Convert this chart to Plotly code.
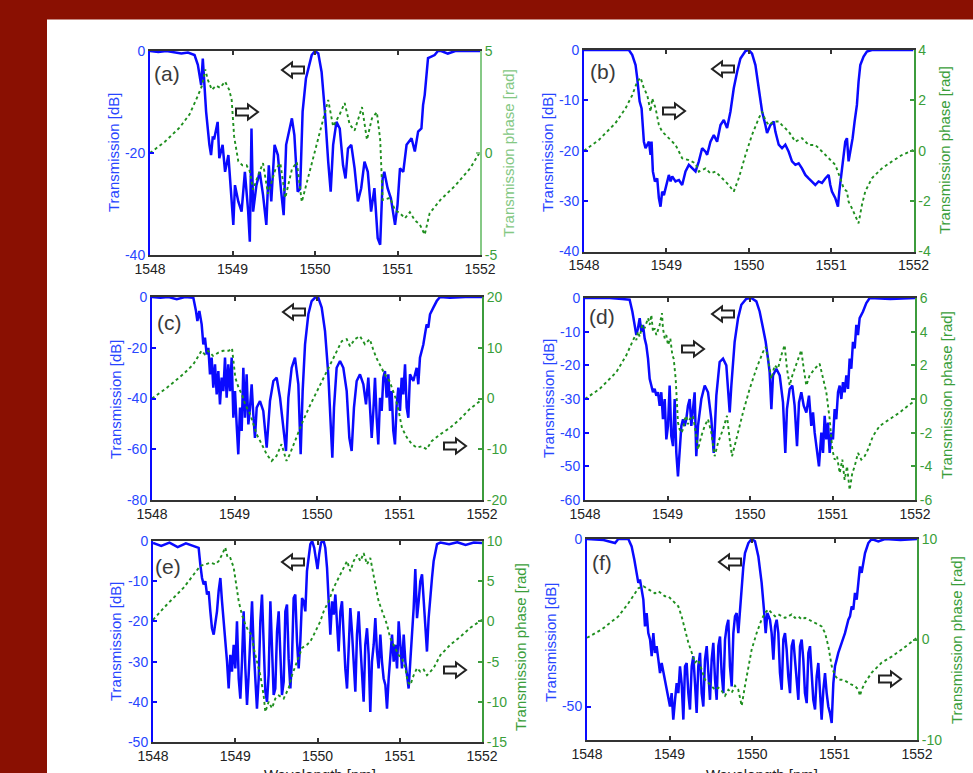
import plotly.graph_objects as go

W, H = 973, 773
FONT = "Liberation Sans, Arial, sans-serif"

# ---------------- data (wavelength nm, value) ----------------
WL_TICKS = [1548, 1549, 1550, 1551, 1552]

A_TRANS = [(1548.00,0),(1548.10,-0.2),(1548.20,0),(1548.30,-0.3),(1548.38,-0.5),(1548.46,-0.3),(1548.54,-0.8),(1548.58,-2.7),(1548.62,-6.7),(1548.64,-1.5),(1548.66,-8.0),(1548.68,-11.9),(1548.72,-18.4),(1548.74,-20.4),(1548.76,-17.0),(1548.78,-17.1),(1548.82,-13.9),(1548.84,-21.0),(1548.88,-18.4),(1548.91,-23.7),(1548.95,-20.4),(1548.99,-28.9),(1549.01,-34.1),(1549.03,-26.3),(1549.07,-29.5),(1549.11,-31.5),(1549.15,-23.7),(1549.19,-31.5),(1549.21,-37.4),(1549.23,-15.2),(1549.25,-31.5),(1549.29,-26.3),(1549.33,-23.7),(1549.37,-28.2),(1549.41,-34.1),(1549.44,-22.4),(1549.47,-29.5),(1549.51,-18.4),(1549.55,-20.4),(1549.59,-27.6),(1549.62,-32.2),(1549.65,-18.4),(1549.69,-15.2),(1549.72,-13.2),(1549.75,-16.5),(1549.79,-27.6),(1549.82,-27.0),(1549.85,-11.9),(1549.89,-5.4),(1549.96,-0.8),(1550.00,0),(1550.04,-0.5),(1550.08,-4.1),(1550.12,-11.9),(1550.16,-21.7),(1550.19,-27.6),(1550.22,-18.4),(1550.26,-13.9),(1550.30,-15.2),(1550.34,-22.4),(1550.37,-25.0),(1550.40,-19.1),(1550.44,-18.4),(1550.48,-23.0),(1550.52,-29.5),(1550.56,-26.9),(1550.60,-21.7),(1550.64,-23.7),(1550.68,-31.5),(1550.72,-26.9),(1550.76,-36.7),(1550.79,-38.0),(1550.82,-25.0),(1550.84,-23.7),(1550.88,-26.9),(1550.92,-28.9),(1550.97,-34.1),(1551.00,-30.2),(1551.03,-23.0),(1551.07,-23.7),(1551.11,-18.4),(1551.17,-17.1),(1551.21,-19.7),(1551.25,-15.8),(1551.29,-15.2),(1551.31,-10.6),(1551.33,-8.6),(1551.35,-4.1),(1551.37,-1.4),(1551.41,-1.1),(1551.45,-0.8),(1551.49,0),(1551.53,0),(1551.61,-0.5),(1551.70,0),(1552.00,0)]
A_PHASE = [(1548.00,0.0),(1548.18,0.55),(1548.36,1.25),(1548.48,1.9),(1548.58,2.8),(1548.63,3.3),(1548.67,4.1),(1548.70,3.6),(1548.75,3.1),(1548.80,3.3),(1548.85,3.2),(1548.91,3.5),(1548.96,3.1),(1548.99,2.6),(1549.02,0.8),(1549.04,0.3),(1549.07,-0.4),(1549.12,-0.6),(1549.17,-0.6),(1549.21,-0.9),(1549.25,-1.8),(1549.31,-1.1),(1549.37,-0.5),(1549.43,-2.0),(1549.52,-0.8),(1549.58,-0.5),(1549.64,-2.2),(1549.72,-0.8),(1549.78,-0.45),(1549.84,-2.4),(1550.00,0.15),(1550.16,2.6),(1550.22,1.3),(1550.30,1.9),(1550.36,2.45),(1550.42,1.4),(1550.48,1.1),(1550.57,2.25),(1550.63,0.65),(1550.69,1.7),(1550.75,2.0),(1550.79,0.65),(1550.82,-2.3),(1550.91,-2.2),(1550.97,-2.8),(1551.03,-2.95),(1551.09,-3.2),(1551.15,-2.9),(1551.21,-3.3),(1551.27,-3.5),(1551.33,-4.0),(1551.39,-2.95),(1551.52,-2.3),(1551.70,-1.6),(1551.88,-0.75),(1552.00,0.05)]

B_TRANS = [(1548.000,0),(1548.300,0),(1548.545,0),(1548.586,-1.0),(1548.626,-3.0),(1548.646,-5.6),(1548.675,-10.2),(1548.699,-11.6),(1548.727,-18.2),(1548.747,-19.5),(1548.768,-18.8),(1548.788,-18.2),(1548.808,-20.8),(1548.820,-18.2),(1548.836,-24.1),(1548.861,-26.1),(1548.889,-25.5),(1548.909,-29.4),(1548.929,-31.1),(1548.949,-28.1),(1548.970,-28.8),(1548.990,-27.4),(1549.030,-24.8),(1549.051,-26.1),(1549.071,-25.1),(1549.111,-26.1),(1549.152,-25.8),(1549.192,-26.8),(1549.232,-24.1),(1549.273,-22.8),(1549.313,-23.5),(1549.354,-24.1),(1549.394,-22.1),(1549.434,-19.5),(1549.475,-20.2),(1549.495,-20.8),(1549.535,-18.2),(1549.576,-16.9),(1549.616,-18.2),(1549.657,-14.9),(1549.697,-13.9),(1549.737,-15.5),(1549.778,-12.2),(1549.818,-7.6),(1549.859,-4.3),(1549.899,-1.7),(1549.960,-0.2),(1550.000,0),(1550.040,-0.7),(1550.081,-3.0),(1550.121,-7.6),(1550.162,-12.2),(1550.202,-14.9),(1550.222,-16.5),(1550.263,-14.9),(1550.303,-14.2),(1550.323,-16.2),(1550.364,-18.8),(1550.404,-19.5),(1550.444,-18.8),(1550.485,-20.2),(1550.525,-22.1),(1550.566,-22.8),(1550.606,-22.5),(1550.646,-23.5),(1550.687,-24.8),(1550.727,-25.5),(1550.768,-26.1),(1550.808,-26.8),(1550.848,-26.1),(1550.889,-26.4),(1550.929,-25.5),(1550.970,-24.8),(1550.990,-26.8),(1551.010,-28.1),(1551.051,-29.4),(1551.083,-31.1),(1551.099,-28.1),(1551.131,-24.1),(1551.172,-18.2),(1551.192,-17.5),(1551.212,-22.1),(1551.232,-20.2),(1551.261,-17.5),(1551.285,-14.2),(1551.313,-10.9),(1551.333,-6.3),(1551.354,-3.0),(1551.394,-1.3),(1551.434,-0.3),(1551.495,0),(1552.000,0)]
B_PHASE = [(1548.0,0.0),(1548.18,0.43),(1548.38,1.09),(1548.505,1.69),(1548.586,2.21),(1548.646,2.74),(1548.687,2.9),(1548.727,2.48),(1548.768,2.21),(1548.808,1.55),(1548.828,2.08),(1548.869,1.69),(1548.909,1.02),(1548.949,0.76),(1548.99,0.63),(1549.03,0.5),(1549.071,0.36),(1549.111,0.23),(1549.152,-0.03),(1549.192,-0.3),(1549.273,-0.37),(1549.354,-0.5),(1549.394,-0.83),(1549.475,-0.7),(1549.535,-0.9),(1549.596,-0.83),(1549.677,-1.09),(1549.758,-1.36),(1549.818,-1.62),(1549.879,-1.09),(1549.96,-0.17),(1550.04,0.63),(1550.121,1.29),(1550.162,1.55),(1550.202,1.22),(1550.242,1.02),(1550.303,1.16),(1550.364,1.16),(1550.404,1.02),(1550.485,0.76),(1550.566,0.36),(1550.646,0.5),(1550.727,0.23),(1550.808,0.23),(1550.889,-0.03),(1550.97,-0.3),(1551.051,-0.56),(1551.111,-1.09),(1551.152,-1.49),(1551.192,-1.62),(1551.212,-2.02),(1551.252,-2.28),(1551.293,-2.55),(1551.333,-2.88),(1551.374,-2.15),(1551.414,-1.62),(1551.495,-1.09),(1551.616,-0.7),(1551.737,-0.43),(1551.859,-0.17),(1552.0,0.03)]

C_TRANS = [(1548.000,0),(1548.100,-0.3),(1548.200,0),(1548.300,-0.9),(1548.400,0),(1548.501,-0.3),(1548.533,-5.5),(1548.550,-9.5),(1548.574,-5.5),(1548.602,-10.8),(1548.622,-18.7),(1548.642,-16.0),(1548.663,-22.6),(1548.683,-20.0),(1548.703,-30.5),(1548.723,-23.9),(1548.743,-35.7),(1548.764,-26.5),(1548.784,-38.4),(1548.804,-29.2),(1548.824,-42.3),(1548.844,-31.8),(1548.865,-37.1),(1548.885,-23.9),(1548.905,-39.7),(1548.925,-26.5),(1548.945,-37.1),(1548.966,-23.9),(1548.986,-47.6),(1549.006,-37.1),(1549.026,-50.2),(1549.046,-62.0),(1549.067,-43.6),(1549.087,-52.8),(1549.107,-27.9),(1549.127,-47.6),(1549.147,-30.5),(1549.168,-50.2),(1549.188,-43.6),(1549.208,-34.4),(1549.228,-46.3),(1549.248,-55.5),(1549.269,-43.6),(1549.309,-41.0),(1549.349,-44.9),(1549.370,-52.8),(1549.390,-59.4),(1549.430,-41.0),(1549.471,-33.1),(1549.511,-31.8),(1549.552,-39.7),(1549.592,-51.5),(1549.624,-60.7),(1549.653,-39.7),(1549.693,-27.9),(1549.733,-23.9),(1549.774,-34.4),(1549.802,-62.0),(1549.826,-37.1),(1549.855,-18.7),(1549.895,-6.8),(1549.935,-1.6),(1549.984,0),(1550.016,-0.3),(1550.057,-4.2),(1550.097,-13.4),(1550.137,-30.5),(1550.166,-50.2),(1550.186,-63.3),(1550.206,-43.6),(1550.238,-27.9),(1550.279,-25.2),(1550.319,-27.9),(1550.360,-37.1),(1550.392,-55.5),(1550.420,-60.7),(1550.448,-43.6),(1550.481,-33.1),(1550.521,-30.5),(1550.562,-34.4),(1550.594,-42.3),(1550.622,-31.8),(1550.642,-42.3),(1550.663,-55.5),(1550.683,-44.9),(1550.703,-31.8),(1550.723,-47.6),(1550.743,-58.1),(1550.764,-39.7),(1550.784,-44.9),(1550.804,-31.8),(1550.824,-29.2),(1550.844,-39.7),(1550.865,-30.5),(1550.885,-44.9),(1550.905,-37.1),(1550.925,-52.8),(1550.945,-58.1),(1550.966,-42.3),(1550.986,-35.7),(1551.006,-44.9),(1551.026,-31.8),(1551.046,-38.4),(1551.067,-26.5),(1551.087,-43.6),(1551.107,-47.6),(1551.127,-30.5),(1551.168,-33.1),(1551.208,-27.9),(1551.228,-34.4),(1551.248,-23.9),(1551.289,-18.7),(1551.309,-14.7),(1551.329,-10.8),(1551.349,-12.1),(1551.370,-6.8),(1551.410,-4.2),(1551.451,-1.6),(1551.491,0),(1551.612,-0.3),(1551.800,0),(1552.000,0)]
C_PHASE = [(1548.00,0.0),(1548.18,2.1),(1548.38,4.8),(1548.50,6.7),(1548.60,9.4),(1548.64,8.7),(1548.68,9.4),(1548.74,8.4),(1548.80,9.0),(1548.86,9.4),(1548.93,9.4),(1548.97,9.9),(1549.01,4.1),(1549.05,2.1),(1549.09,0.8),(1549.13,-1.2),(1549.19,-3.1),(1549.23,-5.1),(1549.27,-7.1),(1549.33,-9.0),(1549.39,-11.0),(1549.45,-12.3),(1549.51,-11.3),(1549.57,-9.0),(1549.63,-12.3),(1549.67,-11.0),(1549.75,-7.7),(1549.83,-4.4),(1549.92,-1.2),(1550.00,1.5),(1550.08,4.1),(1550.16,6.7),(1550.24,9.4),(1550.30,11.3),(1550.36,11.7),(1550.40,10.3),(1550.46,11.7),(1550.52,12.3),(1550.58,10.7),(1550.64,11.7),(1550.68,9.7),(1550.72,8.0),(1550.78,6.1),(1550.82,4.8),(1550.88,3.4),(1550.95,0.2),(1550.99,-2.5),(1551.03,-5.8),(1551.09,-7.7),(1551.15,-9.0),(1551.21,-9.7),(1551.27,-9.4),(1551.33,-10.0),(1551.39,-8.4),(1551.49,-7.1),(1551.61,-5.8),(1551.73,-4.1),(1551.85,-2.1),(1552.00,-0.2)]

D_TRANS = [(1548.000,0),(1548.300,0),(1548.450,-0.3),(1548.541,-0.5),(1548.574,-4),(1548.602,-8),(1548.622,-11),(1548.642,-9),(1548.663,-6),(1548.683,-10),(1548.703,-8),(1548.723,-12),(1548.743,-14),(1548.764,-18),(1548.784,-24),(1548.804,-26),(1548.824,-28),(1548.844,-27),(1548.865,-29),(1548.885,-28),(1548.905,-32),(1548.925,-28),(1548.945,-36),(1548.966,-30),(1548.986,-42),(1549.006,-38),(1549.026,-26),(1549.046,-41),(1549.067,-44),(1549.087,-30),(1549.107,-46),(1549.127,-53),(1549.147,-46),(1549.168,-38),(1549.188,-36),(1549.208,-38),(1549.228,-36),(1549.248,-32),(1549.269,-30),(1549.289,-38),(1549.309,-33),(1549.329,-28),(1549.349,-47),(1549.370,-38),(1549.410,-30),(1549.451,-26),(1549.491,-28),(1549.531,-36),(1549.560,-46),(1549.592,-29),(1549.632,-19),(1549.673,-18),(1549.713,-20),(1549.754,-34),(1549.774,-26),(1549.814,-13),(1549.855,-6),(1549.895,-2),(1549.956,-0.2),(1550.016,0),(1550.077,-1),(1550.117,-4),(1550.158,-9),(1550.190,-13),(1550.218,-18),(1550.238,-22),(1550.259,-33),(1550.279,-23),(1550.319,-21),(1550.360,-23),(1550.400,-31),(1550.428,-46),(1550.448,-33),(1550.481,-27),(1550.513,-26),(1550.541,-32),(1550.570,-44),(1550.594,-31),(1550.622,-28),(1550.651,-32),(1550.683,-34),(1550.715,-29),(1550.743,-38),(1550.764,-34),(1550.784,-40),(1550.804,-44),(1550.836,-50),(1550.865,-40),(1550.885,-46),(1550.905,-35),(1550.925,-42),(1550.945,-37),(1550.966,-46),(1550.986,-40),(1551.006,-42),(1551.026,-33),(1551.046,-36),(1551.067,-28),(1551.087,-26),(1551.107,-30),(1551.127,-25),(1551.147,-28),(1551.168,-23),(1551.188,-27),(1551.208,-18),(1551.228,-21),(1551.248,-13),(1551.269,-15),(1551.289,-8),(1551.309,-11),(1551.329,-6),(1551.370,-4),(1551.410,-1.5),(1551.451,0),(1551.700,-0.3),(1552.000,0)]
D_PHASE = [(1548.0,0.0),(1548.178,0.6),(1548.380,1.6),(1548.501,2.6),(1548.574,3.4),(1548.602,3.7),(1548.622,3.5),(1548.642,4.0),(1548.663,3.7),(1548.695,4.4),(1548.723,4.2),(1548.764,4.8),(1548.784,4.4),(1548.804,5.0),(1548.824,4.0),(1548.844,4.2),(1548.865,3.8),(1548.905,4.4),(1548.933,5.1),(1548.945,4.2),(1548.966,3.6),(1548.986,3.8),(1549.006,3.2),(1549.034,3.6),(1549.059,2.6),(1549.075,2.4),(1549.099,1.2),(1549.115,-0.2),(1549.127,-1.4),(1549.147,-1.8),(1549.168,-2.0),(1549.188,-1.8),(1549.208,-1.2),(1549.228,-1.0),(1549.248,-1.5),(1549.269,-1.2),(1549.309,-1.0),(1549.349,-2.2),(1549.370,-3.0),(1549.410,-2.2),(1549.451,-1.6),(1549.491,-1.2),(1549.531,-2.0),(1549.572,-3.4),(1549.612,-2.6),(1549.673,-1.8),(1549.721,-1.0),(1549.754,-2.4),(1549.782,-3.4),(1549.834,-2.4),(1549.915,-0.8),(1549.996,0.6),(1550.077,1.8),(1550.158,2.8),(1550.190,3.1),(1550.218,2.4),(1550.259,1.2),(1550.299,2.0),(1550.339,1.8),(1550.380,2.6),(1550.420,3.2),(1550.448,1.8),(1550.481,0.8),(1550.513,1.4),(1550.562,2.1),(1550.622,2.9),(1550.651,1.8),(1550.683,0.8),(1550.723,1.4),(1550.784,1.8),(1550.844,2.1),(1550.885,1.2),(1550.925,0.4),(1550.966,-1.2),(1550.998,-3.0),(1551.026,-3.6),(1551.055,-3.4),(1551.087,-4.4),(1551.119,-3.6),(1551.147,-4.8),(1551.176,-4.0),(1551.208,-5.4),(1551.240,-4.4),(1551.269,-4.0),(1551.309,-3.2),(1551.349,-3.6),(1551.390,-3.4),(1551.430,-3.0),(1551.491,-2.2),(1551.572,-1.6),(1551.693,-1.2),(1551.814,-0.8),(1551.915,-0.4),(1552.0,-0.1)]

E_TRANS = [(1548.000,-0.5),(1548.100,-1.2),(1548.200,-0.4),(1548.300,-1.5),(1548.400,-0.6),(1548.500,-1.2),(1548.555,-1.7),(1548.575,-5.8),(1548.596,-9.2),(1548.616,-10.8),(1548.636,-10.0),(1548.657,-13.3),(1548.677,-12.5),(1548.697,-17.5),(1548.717,-21.7),(1548.738,-23.3),(1548.758,-20.0),(1548.778,-17.5),(1548.798,-12.5),(1548.819,-9.2),(1548.839,-15.0),(1548.859,-20.0),(1548.879,-23.3),(1548.900,-30.0),(1548.920,-36.7),(1548.940,-28.3),(1548.960,-32.5),(1548.981,-25.8),(1549.001,-31.7),(1549.021,-20.0),(1549.042,-34.2),(1549.062,-39.2),(1549.082,-30.0),(1549.102,-17.5),(1549.123,-31.7),(1549.143,-40.8),(1549.163,-33.3),(1549.183,-23.3),(1549.204,-15.0),(1549.224,-26.7),(1549.244,-35.8),(1549.264,-41.7),(1549.285,-34.2),(1549.305,-20.0),(1549.325,-13.3),(1549.345,-25.0),(1549.366,-37.5),(1549.386,-40.0),(1549.406,-33.3),(1549.427,-15.0),(1549.447,-26.7),(1549.467,-38.3),(1549.487,-36.7),(1549.508,-22.5),(1549.528,-17.5),(1549.548,-30.0),(1549.568,-38.3),(1549.589,-35.0),(1549.609,-17.5),(1549.629,-15.8),(1549.649,-29.2),(1549.670,-36.7),(1549.690,-29.2),(1549.710,-14.2),(1549.730,-13.3),(1549.751,-25.0),(1549.771,-31.7),(1549.791,-25.0),(1549.812,-14.2),(1549.832,-15.0),(1549.852,-17.5),(1549.872,-7.5),(1549.893,-3.3),(1549.913,-0.8),(1549.935,0),(1549.960,-1.7),(1549.985,-5.0),(1550.000,-7.0),(1550.020,-3.3),(1550.043,-0.4),(1550.075,0),(1550.095,-1.7),(1550.116,-6.7),(1550.136,-15.0),(1550.156,-23.3),(1550.177,-15.0),(1550.197,-18.3),(1550.217,-13.3),(1550.237,-21.7),(1550.257,-27.5),(1550.278,-17.5),(1550.298,-15.0),(1550.318,-23.3),(1550.338,-31.7),(1550.359,-36.7),(1550.379,-25.0),(1550.399,-16.7),(1550.419,-22.5),(1550.440,-30.8),(1550.460,-37.5),(1550.480,-23.3),(1550.500,-17.5),(1550.521,-25.8),(1550.541,-33.3),(1550.561,-40.0),(1550.581,-25.8),(1550.602,-21.7),(1550.622,-28.3),(1550.642,-42.5),(1550.662,-30.0),(1550.683,-25.8),(1550.703,-19.2),(1550.723,-27.5),(1550.743,-31.7),(1550.764,-23.3),(1550.784,-30.0),(1550.804,-34.2),(1550.825,-35.8),(1550.845,-41.7),(1550.865,-34.2),(1550.885,-27.5),(1550.906,-23.3),(1550.926,-30.0),(1550.946,-25.8),(1550.967,-31.7),(1550.987,-20.0),(1551.007,-25.8),(1551.027,-31.7),(1551.048,-23.3),(1551.068,-30.0),(1551.088,-33.3),(1551.108,-36.7),(1551.128,-30.0),(1551.149,-23.3),(1551.169,-16.7),(1551.189,-7.0),(1551.210,-19.2),(1551.230,-15.0),(1551.250,-10.0),(1551.271,-8.3),(1551.291,-15.0),(1551.311,-23.3),(1551.331,-27.5),(1551.351,-19.2),(1551.372,-13.3),(1551.392,-9.2),(1551.412,-5.0),(1551.433,-2.5),(1551.453,-0.8),(1551.494,-0.4),(1551.600,-0.8),(1551.700,-0.3),(1551.800,-1.0),(1551.900,-0.4),(1552.000,-0.5)]
E_PHASE = [(1548.0,0.2),(1548.170,2.1),(1548.373,4.2),(1548.494,5.8),(1548.575,6.9),(1548.636,7.1),(1548.697,7.3),(1548.758,7.1),(1548.798,7.5),(1548.839,8.3),(1548.879,9.2),(1548.908,7.9),(1548.940,7.9),(1548.981,6.7),(1549.013,4.2),(1549.042,2.5),(1549.082,0.8),(1549.123,-0.4),(1549.163,-1.25),(1549.204,-1.7),(1549.224,-3.3),(1549.264,-5.0),(1549.305,-6.7),(1549.345,-9.2),(1549.366,-11.25),(1549.406,-10.0),(1549.447,-10.8),(1549.487,-9.6),(1549.528,-9.2),(1549.589,-9.6),(1549.649,-8.3),(1549.690,-6.7),(1549.751,-5.0),(1549.812,-3.3),(1549.872,-2.9),(1549.913,-2.5),(1549.953,-1.7),(1549.994,-0.8),(1550.034,0.0),(1550.075,1.25),(1550.136,2.5),(1550.197,4.2),(1550.257,5.4),(1550.318,6.7),(1550.359,7.5),(1550.399,6.25),(1550.440,7.5),(1550.480,8.3),(1550.521,7.5),(1550.561,8.5),(1550.602,7.1),(1550.642,7.9),(1550.662,6.7),(1550.703,4.6),(1550.743,2.5),(1550.784,1.25),(1550.845,-0.4),(1550.885,-2.1),(1550.946,-3.3),(1550.987,-4.2),(1551.027,-4.6),(1551.068,-5.8),(1551.096,-7.5),(1551.129,-7.9),(1551.169,-6.7),(1551.210,-5.8),(1551.250,-6.25),(1551.291,-6.0),(1551.331,-6.7),(1551.372,-6.25),(1551.412,-5.8),(1551.494,-4.2),(1551.615,-2.9),(1551.737,-1.9),(1551.858,-0.8),(1552.0,0.2)]

F_TRANS = [(1548.000,0),(1548.200,-0.3),(1548.340,-1.2),(1548.380,0),(1548.501,0),(1548.541,-2.2),(1548.574,-6.2),(1548.602,-10.1),(1548.622,-13.1),(1548.642,-12.1),(1548.663,-15.1),(1548.683,-18.1),(1548.703,-26.1),(1548.723,-22.1),(1548.743,-28.1),(1548.764,-30.0),(1548.784,-35.0),(1548.804,-28.1),(1548.824,-34.0),(1548.844,-32.0),(1548.865,-36.0),(1548.885,-40.0),(1548.905,-37.0),(1548.945,-42.0),(1548.966,-44.0),(1548.986,-47.0),(1549.006,-50.0),(1549.026,-46.0),(1549.046,-53.9),(1549.067,-48.0),(1549.087,-43.0),(1549.107,-46.0),(1549.127,-38.0),(1549.147,-43.0),(1549.168,-53.9),(1549.188,-38.0),(1549.208,-37.0),(1549.228,-46.0),(1549.248,-50.9),(1549.269,-38.0),(1549.289,-35.0),(1549.309,-43.0),(1549.329,-51.9),(1549.349,-38.0),(1549.370,-34.0),(1549.390,-46.0),(1549.410,-50.0),(1549.430,-36.0),(1549.451,-32.0),(1549.471,-40.0),(1549.491,-48.0),(1549.511,-36.0),(1549.531,-31.0),(1549.552,-42.0),(1549.572,-48.0),(1549.592,-32.0),(1549.612,-29.1),(1549.632,-40.0),(1549.653,-46.0),(1549.673,-30.0),(1549.693,-26.1),(1549.713,-24.1),(1549.733,-38.0),(1549.754,-44.0),(1549.774,-28.1),(1549.794,-23.1),(1549.814,-22.1),(1549.834,-28.1),(1549.855,-21.1),(1549.875,-13.1),(1549.895,-8.2),(1549.915,-4.2),(1549.956,-1.2),(1549.996,0),(1550.036,-0.7),(1550.077,-5.2),(1550.117,-13.1),(1550.145,-21.1),(1550.166,-28.1),(1550.186,-22.1),(1550.218,-24.1),(1550.238,-28.1),(1550.259,-36.0),(1550.279,-26.1),(1550.299,-24.1),(1550.319,-28.1),(1550.339,-40.0),(1550.360,-45.0),(1550.380,-30.0),(1550.400,-28.1),(1550.420,-33.0),(1550.440,-41.0),(1550.461,-46.0),(1550.481,-32.0),(1550.501,-30.0),(1550.521,-36.0),(1550.541,-43.0),(1550.562,-48.0),(1550.582,-32.0),(1550.602,-30.0),(1550.622,-36.0),(1550.642,-46.0),(1550.663,-49.0),(1550.683,-34.0),(1550.703,-32.0),(1550.723,-40.0),(1550.743,-48.0),(1550.764,-50.9),(1550.784,-41.0),(1550.804,-37.0),(1550.824,-45.0),(1550.844,-53.9),(1550.865,-45.0),(1550.885,-40.0),(1550.905,-46.0),(1550.925,-50.0),(1550.945,-51.9),(1550.966,-54.9),(1550.986,-43.0),(1551.006,-38.0),(1551.026,-36.0),(1551.046,-34.0),(1551.087,-31.0),(1551.127,-28.1),(1551.168,-24.1),(1551.188,-23.1),(1551.208,-20.1),(1551.228,-21.1),(1551.248,-16.1),(1551.269,-18.1),(1551.289,-13.1),(1551.309,-8.2),(1551.329,-10.1),(1551.349,-7.2),(1551.370,-4.2),(1551.410,-1.2),(1551.451,0),(1551.531,-0.7),(1551.612,0),(1551.800,-0.3),(1552.000,0)]
F_PHASE = [(1548.0,0.17),(1548.178,1.0),(1548.380,2.3),(1548.501,3.6),(1548.582,4.6),(1548.622,5.1),(1548.683,5.3),(1548.743,5.0),(1548.784,4.8),(1548.824,4.6),(1548.865,4.8),(1548.905,4.5),(1548.945,4.3),(1548.986,4.3),(1549.026,4.0),(1549.067,3.6),(1549.107,3.3),(1549.147,2.3),(1549.188,1.0),(1549.228,-0.3),(1549.269,-1.3),(1549.309,-2.3),(1549.349,-2.0),(1549.390,-3.0),(1549.430,-4.0),(1549.471,-4.3),(1549.511,-4.6),(1549.552,-5.0),(1549.592,-4.8),(1549.632,-5.1),(1549.673,-5.6),(1549.713,-5.0),(1549.754,-5.3),(1549.794,-4.6),(1549.834,-5.0),(1549.875,-6.6),(1549.915,-4.6),(1549.956,-2.65),(1549.996,-1.0),(1550.057,0.66),(1550.117,2.0),(1550.158,2.65),(1550.198,3.0),(1550.238,2.65),(1550.279,2.3),(1550.319,2.5),(1550.360,2.3),(1550.400,2.15),(1550.440,2.3),(1550.481,2.5),(1550.521,2.15),(1550.562,2.3),(1550.602,2.0),(1550.642,2.15),(1550.683,2.0),(1550.723,1.8),(1550.764,1.65),(1550.804,1.5),(1550.844,1.3),(1550.885,0.66),(1550.925,-0.66),(1550.966,-2.65),(1551.006,-3.6),(1551.046,-4.0),(1551.087,-4.0),(1551.127,-4.1),(1551.168,-4.3),(1551.208,-4.5),(1551.248,-4.6),(1551.289,-5.0),(1551.309,-5.6),(1551.329,-5.0),(1551.370,-4.3),(1551.451,-3.3),(1551.572,-2.3),(1551.693,-1.7),(1551.814,-1.0),(1551.915,-0.4),(1552.0,0.17)]

PANEL_LABELS = ["(a)", "(b)", "(c)", "(d)", "(e)", "(f)"]
TRANS = [A_TRANS, B_TRANS, C_TRANS, D_TRANS, E_TRANS, F_TRANS]
PHASE = [A_PHASE, B_PHASE, C_PHASE, D_PHASE, E_PHASE, F_PHASE]
DB_RANGES = [[-40, 0], [-40, 0], [-80, 0], [-60, 0], [-50, 0], [-60, 0]]
DB_TICKS = [[0, -20, -40], [0, -10, -20, -30, -40], [0, -20, -40, -60, -80],
            [0, -10, -20, -30, -40, -50, -60], [0, -10, -20, -30, -40, -50], [0, -50]]
RAD_RANGES = [[-5, 5], [-4, 4], [-20, 20], [-6, 6], [-15, 10], [-10, 10]]
RAD_TICKS = [[5, 0, -5], [4, 2, 0, -2, -4], [20, 10, 0, -10, -20],
             [6, 4, 2, 0, -2, -4, -6], [10, 5, 0, -5, -10, -15], [10, 0, -10]]

# ---------------- layout geometry (pixels) ----------------
DOMS = [(150, 480, 51, 255), (584, 913.5, 50, 251.5), (152, 482, 297, 500),
        (585, 915, 298, 500), (153, 482, 541, 742), (587, 917, 539, 740)]
LABEL_POS = [(167, 74), (603, 71), (169, 322), (602, 316), (168, 566), (602, 562)]
LEFT_TITLE = [(114, 153), (548, 153), (115, 400), (548, 399), (115, 642), (550, 643)]
RIGHT_TITLE = [(509, 153), (944, 150), None, (946, 395), (520, 647), (956, 640)]
ARROWS_L = [(293, 70), (723, 69), (294, 312), (723, 314), (293, 562), (730, 562)]
ARROWS_R = [(247, 112), (674, 111), (455, 446), (693, 349), (455, 670), (890, 679)]

BLUE = "#0a0aff"
BLUE_TXT = "#2846ff"
GREEN = "#1f8f1f"
GREEN_TXT = "#3a9e3a"
GREEN_AX = "#3c9c3c"


def px(x):
    return x / W


def py(y):
    return 1 - y / H


def fmt(v):
    return str(v)


def arrow_path(cx, cy, right):
    pts = [(-11, -3.5), (1, -3.5), (1, -7.5), (11, 0), (1, 7.5), (1, 3.5), (-11, 3.5)]
    s = 1 if right else -1
    coords = [f"{px(cx + s * dx):.5f},{py(cy + dy):.5f}" for dx, dy in pts]
    return "M " + " L ".join(coords) + " Z"


fig = go.Figure()
layout = dict(
    template="none",
    width=W, height=H, autosize=False,
    margin=dict(l=0, r=0, t=0, b=0, pad=0, autoexpand=False),
    paper_bgcolor="#8a1002",
    plot_bgcolor="white",
    showlegend=False,
    font=dict(family=FONT),
)
shapes = [dict(type="rect", xref="paper", yref="paper", x0=px(47), x1=1.0,
               y0=0.0, y1=py(19.5), fillcolor="white", line=dict(width=0), layer="below")]
annotations = []

for i in range(6):
    n = i + 1
    xref = "x" if n == 1 else f"x{n}"
    xname = "xaxis" if n == 1 else f"xaxis{n}"
    yl, yr = 2 * n - 1, 2 * n
    ylref = "y" if yl == 1 else f"y{yl}"
    ylname = "yaxis" if yl == 1 else f"yaxis{yl}"
    yrref, yrname = f"y{yr}", f"yaxis{yr}"
    x0, x1, yt, yb = DOMS[i]

    layout[xname] = dict(
        domain=[px(x0), px(x1)], range=[1548, 1552], anchor=ylref, automargin=False,
        tickvals=WL_TICKS, ticktext=[fmt(t) for t in WL_TICKS],
        ticks="inside", ticklen=4, tickwidth=1.5, tickcolor="#333",
        showline=True, linecolor="#333", linewidth=2, mirror="ticks",
        showgrid=False, zeroline=False,
        tickfont=dict(size=14, color="#222", family=FONT))
    layout[ylname] = dict(
        domain=[py(yb), py(yt)], range=DB_RANGES[i], anchor=xref, side="left", automargin=False,
        tickvals=DB_TICKS[i], ticktext=[fmt(t) for t in DB_TICKS[i]],
        ticks="inside", ticklen=4, tickwidth=1.5, tickcolor=BLUE,
        showline=True, linecolor=BLUE, linewidth=2,
        showgrid=False, zeroline=False,
        tickfont=dict(size=14, color=BLUE_TXT, family=FONT))
    gax = "#86c986" if n == 1 else GREEN_AX
    layout[yrname] = dict(
        overlaying=ylref, anchor=xref, side="right", range=RAD_RANGES[i], automargin=False,
        tickvals=RAD_TICKS[i], ticktext=[fmt(t) for t in RAD_TICKS[i]],
        ticks="inside", ticklen=4, tickwidth=1.5, tickcolor=gax,
        showline=True, linecolor=gax, linewidth=2,
        showgrid=False, zeroline=False,
        tickfont=dict(size=14, color=GREEN_TXT, family=FONT))

    tw = [p[0] for p in TRANS[i]]
    tv = [p[1] for p in TRANS[i]]
    pw = [p[0] for p in PHASE[i]]
    pv = [p[1] for p in PHASE[i]]
    fig.add_trace(go.Scatter(x=tw, y=tv, xaxis=xref, yaxis=ylref, mode="lines",
                             line=dict(color=BLUE, width=2.5), hoverinfo="skip"))
    fig.add_trace(go.Scatter(x=pw, y=pv, xaxis=xref, yaxis=yrref, mode="lines",
                             line=dict(color=GREEN, width=1.9, dash="dot"), hoverinfo="skip"))

    lx, ly = LABEL_POS[i]
    annotations.append(dict(text=PANEL_LABELS[i], xref="paper", yref="paper",
                            x=px(lx), y=py(ly), xanchor="center", yanchor="middle",
                            showarrow=False, font=dict(size=21, color="#3a3a3a", family=FONT)))
    tx, ty = LEFT_TITLE[i]
    annotations.append(dict(text="Transmission [dB]", xref="paper", yref="paper",
                            x=px(tx), y=py(ty), xanchor="center", yanchor="middle",
                            textangle=-90, showarrow=False,
                            font=dict(size=15, color=BLUE_TXT, family=FONT)))
    if RIGHT_TITLE[i] is not None:
        rx, ry = RIGHT_TITLE[i]
        col = "#84c884" if n == 1 else GREEN_TXT
        annotations.append(dict(text="Transmission phase [rad]", xref="paper", yref="paper",
                                x=px(rx), y=py(ry), xanchor="center", yanchor="middle",
                                textangle=-90, showarrow=False,
                                font=dict(size=15, color=col, family=FONT)))
    for (ax, ay), right in ((ARROWS_L[i], False), (ARROWS_R[i], True)):
        shapes.append(dict(type="path", xref="paper", yref="paper",
                           path=arrow_path(ax, ay, right),
                           line=dict(color="#222", width=2), fillcolor="white", layer="above"))

for cx in (320, 762):
    annotations.append(dict(text="Wavelength [nm]", xref="paper", yref="paper",
                            x=px(cx), y=py(764), xanchor="center", yanchor="top",
                            showarrow=False, font=dict(size=15, color="#222", family=FONT)))

layout["shapes"] = shapes
layout["annotations"] = annotations
fig.update_layout(**layout)
fig.write_html("out.html")
